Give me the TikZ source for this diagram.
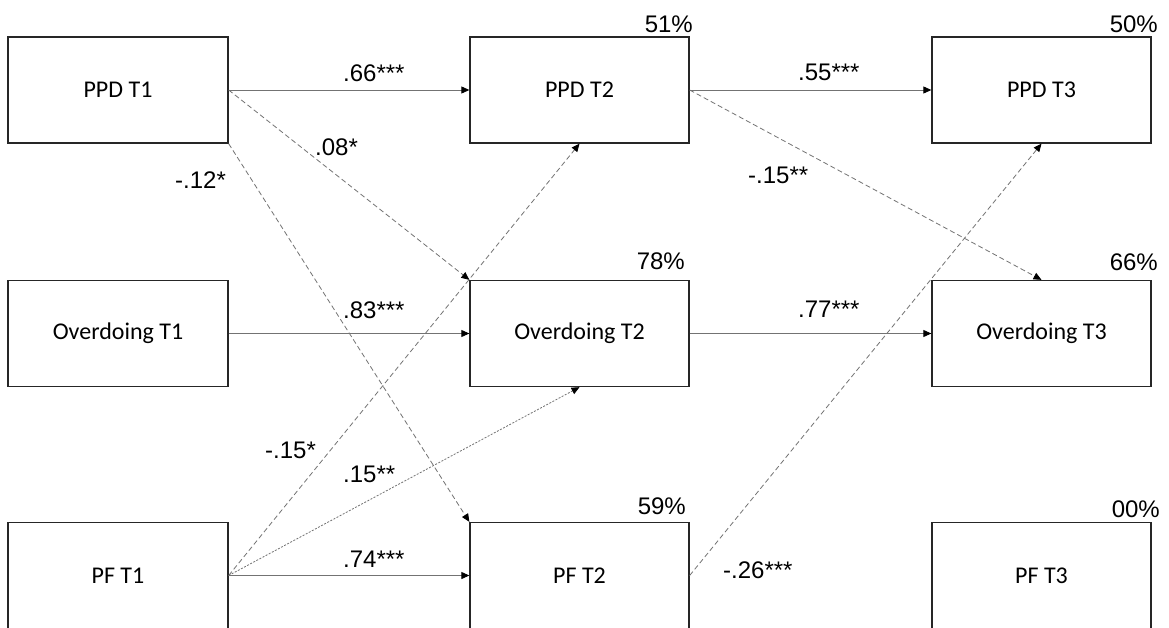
\documentclass[tikz,border=0pt]{standalone}
\usepackage{fontspec}
\setmainfont{Liberation Sans}
\newfontfamily\boxfont{Carlito}
\usetikzlibrary{arrows.meta}
\begin{document}
\begin{tikzpicture}[x=1pt,y=-1pt,
  varbox/.style={draw=black!85, line width=1.3pt, minimum height=106pt, inner sep=0pt,
    font=\boxfont\fontsize{24}{28}\selectfont},
  lbox/.style={varbox, minimum width=220pt},
  rbox/.style={varbox, minimum width=219pt},
  coef/.style={inner sep=0pt, anchor=base west, font=\fontsize{24}{28}\selectfont},
  pct/.style={inner sep=0pt, anchor=base east, font=\fontsize{24}{28}\selectfont},
  tipA/.style={-{Triangle[length=8pt,width=7pt,color=black]}},
  solidpath/.style={tipA, draw=black!55, line width=0.9pt},
  dashpath/.style={tipA, draw=black!55, line width=0.8pt, dash pattern=on 5pt off 3pt},
  dotpath/.style={tipA, draw=black!55, line width=0.8pt, dash pattern=on 2pt off 1.5pt}]
\useasboundingbox (0,0) rectangle (1169,627);
\fill[white] (0,0) rectangle (1169,627);
% boxes
\node[lbox] (p1) at (118,90) {PPD T1};
\node[lbox] (o1) at (118,333.5) {Overdoing T1};
\node[lbox] (f1) at (118,575.5) {PF T1};
\node[rbox] (p2) at (579.5,90) {PPD T2};
\node[rbox] (o2) at (579.5,333.5) {Overdoing T2};
\node[rbox] (f2) at (579.5,575.5) {PF T2};
\node[rbox] (p3) at (1041.5,90) {PPD T3};
\node[rbox] (o3) at (1041.5,333.5) {Overdoing T3};
\node[rbox] (f3) at (1041.5,575.5) {PF T3};
% percentages
\node[pct] (r51) at (693,32) {51\%};
\node[pct] (r50) at (1158,32) {50\%};
\node[pct] (r78) at (685,269) {78\%};
\node[pct] (r66) at (1158,270) {66\%};
\node[pct] (r59) at (686,514) {59\%};
\node[pct] (r00) at (1160,517) {00\%};
% connectors
\draw[solidpath] (p1.east) -- (p2.west);
\draw[solidpath] (o1.east) -- (o2.west);
\draw[solidpath] (f1.east) -- (f2.west);
\draw[solidpath] (p2.east) -- (p3.west);
\draw[solidpath] (o2.east) -- (o3.west);
\draw[dashpath] (p1.east) -- (o2.north west);
\draw[dashpath] (p1.south east) -- (f2.north west);
\draw[dashpath] (p2.east) -- (o3.north);
\draw[dashpath] (f1.east) -- (p2.south);
\draw[dotpath] (f1.east) -- (o2.south);
\draw[dashpath] (f2.east) -- (p3.south);
% coefficients
\node[coef] (c66) at (343,81) {.66***};
\node[coef] (c08) at (315,155) {.08*};
\node[coef] (c12) at (175,188) {-.12*};
\node[coef] (c55) at (798,80) {.55***};
\node[coef] (c15b) at (748,183) {-.15**};
\node[coef] (c83) at (343,318) {.83***};
\node[coef] (c77) at (798,317) {.77***};
\node[coef] (c15a) at (265,458) {-.15*};
\node[coef] (c15c) at (343,482) {.15**};
\node[coef] (c74) at (343,567) {.74***};
\node[coef] (c26) at (723,578) {-.26***};
\end{tikzpicture}
\end{document}
